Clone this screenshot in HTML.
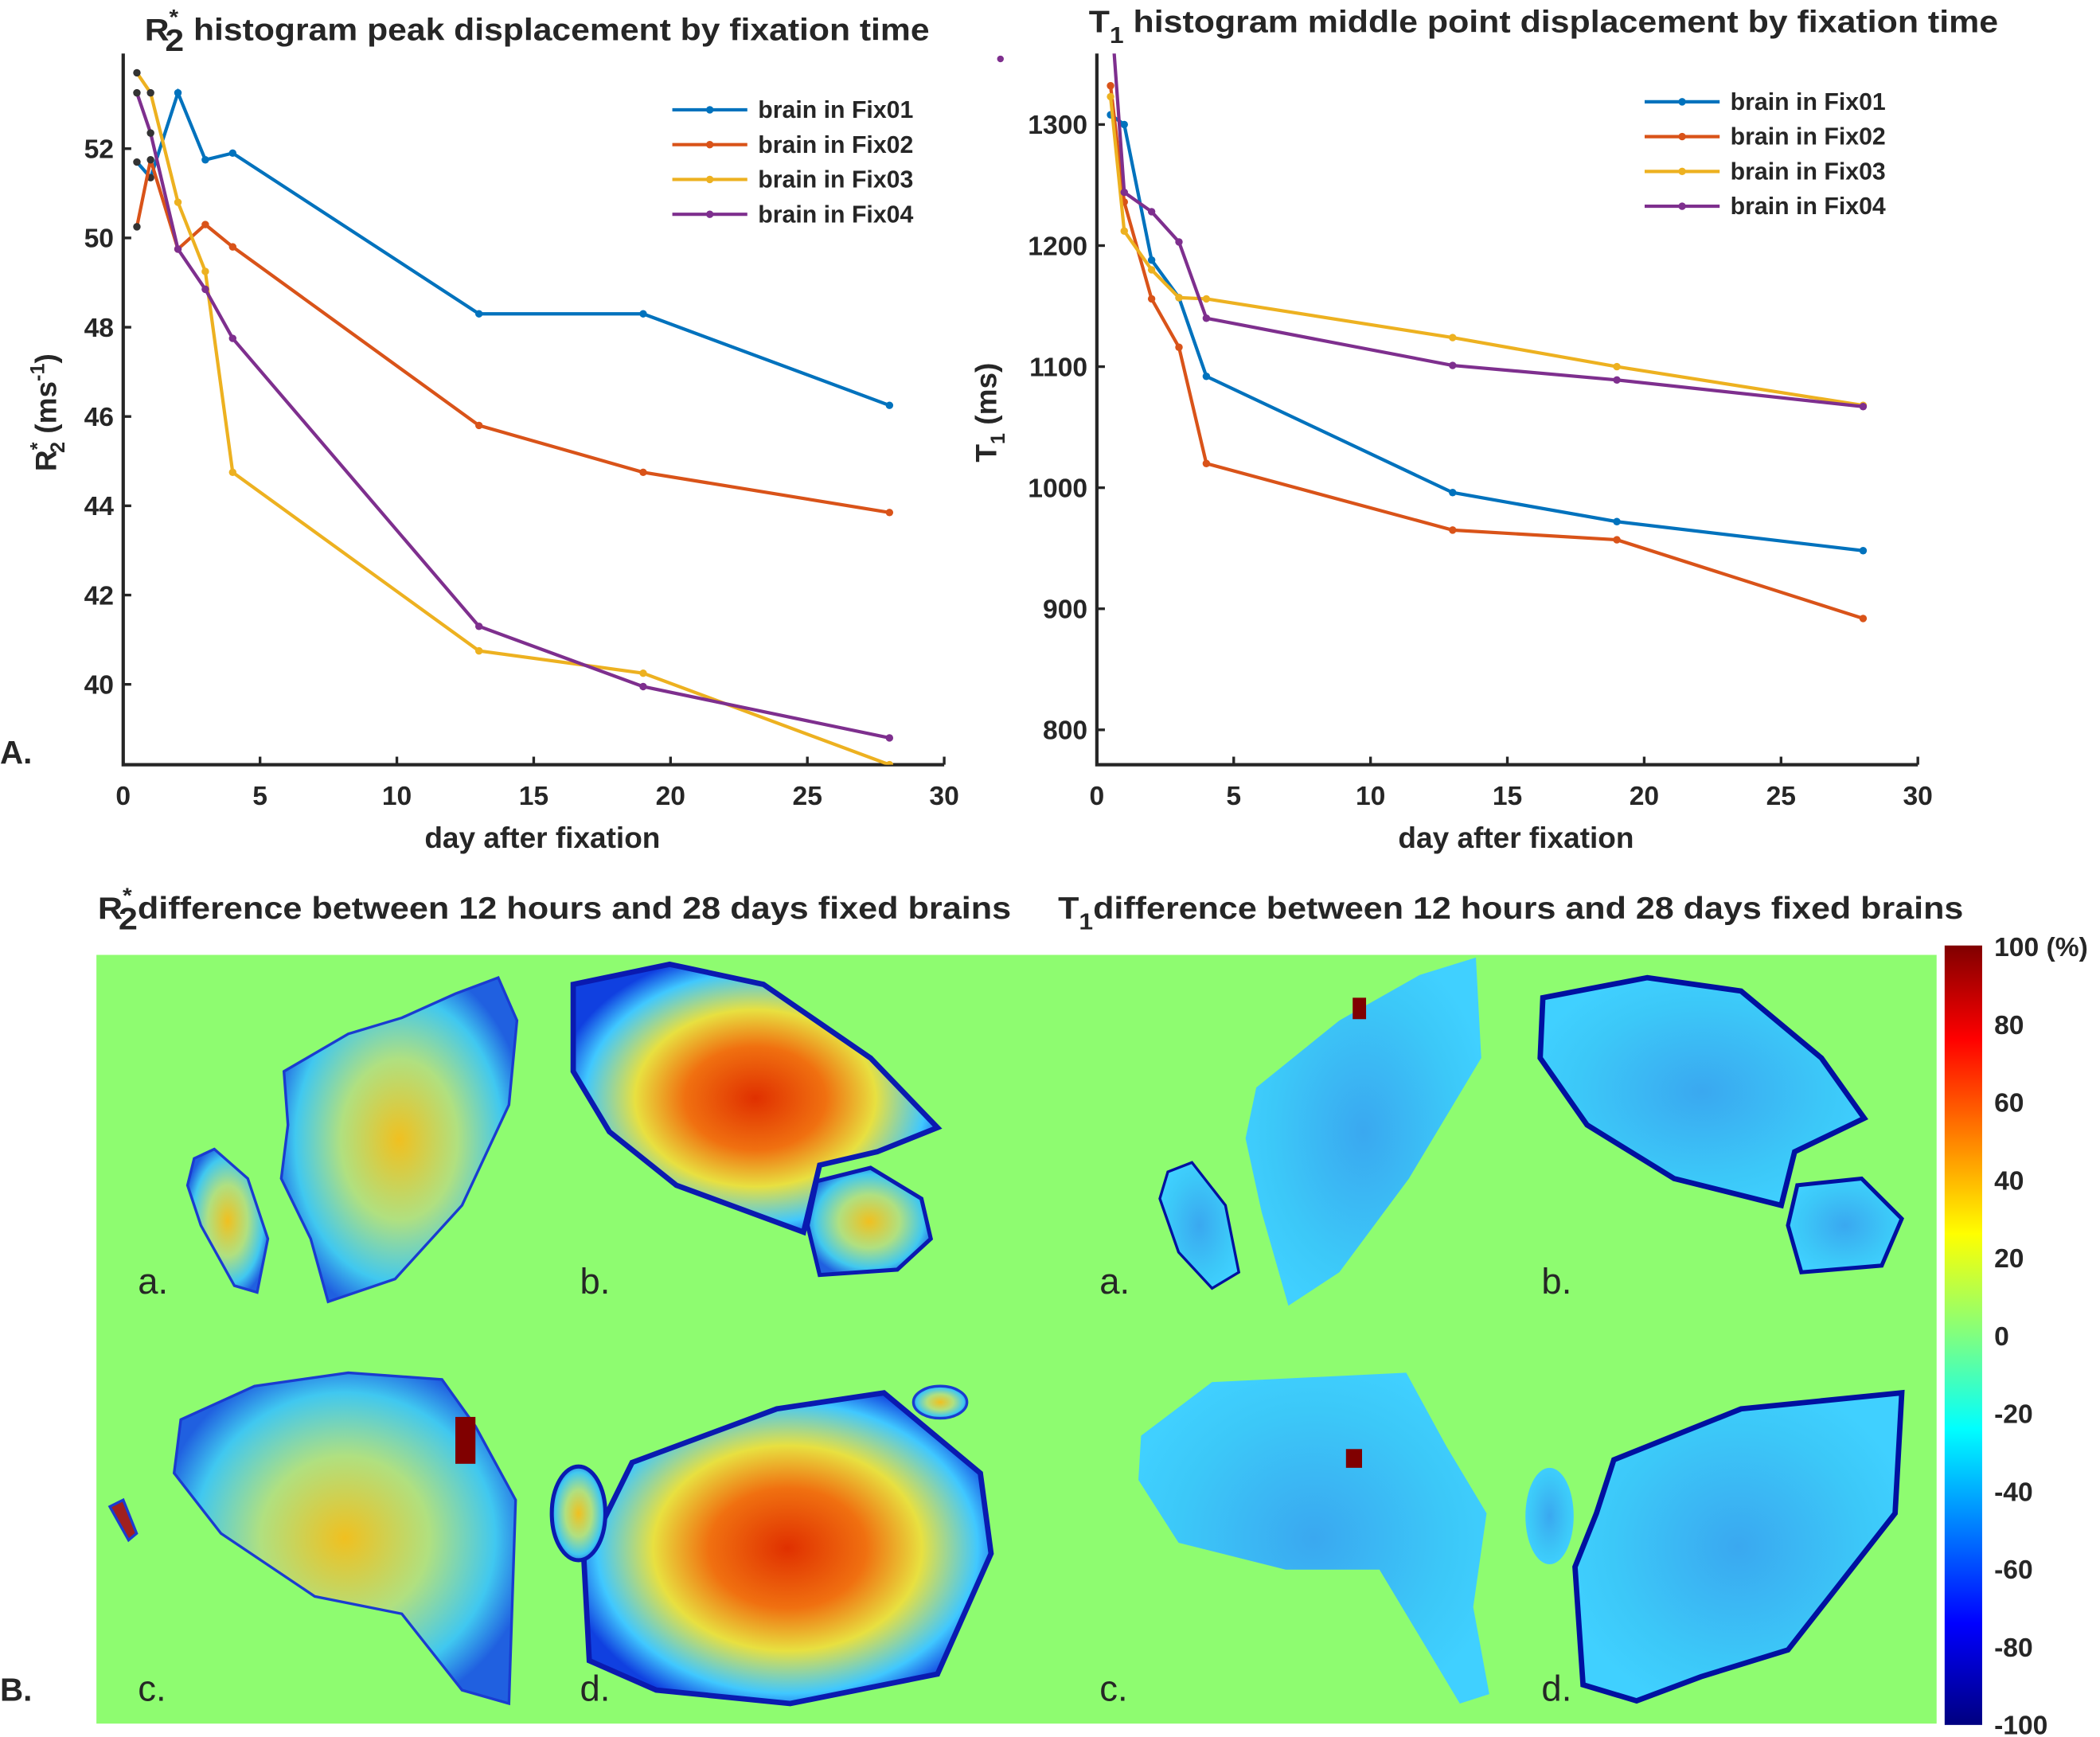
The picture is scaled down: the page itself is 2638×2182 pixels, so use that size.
<!DOCTYPE html>
<html><head><meta charset="utf-8"><style>
html,body{margin:0;padding:0;background:#fff;}
svg{display:block;}
text{font-family:"Liberation Sans",sans-serif;fill:#262626;}
.b{font-weight:bold;}
</style></head><body>
<svg id="fig" xmlns="http://www.w3.org/2000/svg" width="2638" height="2182" viewBox="0 0 1568 1297" preserveAspectRatio="none">
<defs>
<linearGradient id="jet" x1="0" y1="0" x2="0" y2="1">
<stop offset="0" stop-color="#800000"/><stop offset="0.12" stop-color="#ff0000"/><stop offset="0.37" stop-color="#ffff00"/><stop offset="0.5" stop-color="#80ff80"/><stop offset="0.62" stop-color="#00ffff"/><stop offset="0.87" stop-color="#0000ff"/><stop offset="1" stop-color="#000080"/>
</linearGradient>
<radialGradient id="hot" cx="0.5" cy="0.5" r="0.55">
<stop offset="0" stop-color="#e03000"/><stop offset="0.35" stop-color="#f07010"/><stop offset="0.6" stop-color="#e8e040"/><stop offset="0.85" stop-color="#40c8ff"/><stop offset="1" stop-color="#1040e0"/>
</radialGradient>
<radialGradient id="warm" cx="0.5" cy="0.5" r="0.55">
<stop offset="0" stop-color="#f0c020"/><stop offset="0.45" stop-color="#b0e080"/><stop offset="0.8" stop-color="#40c8f0"/><stop offset="1" stop-color="#2060e0"/>
</radialGradient>
<radialGradient id="cool" cx="0.5" cy="0.5" r="0.55">
<stop offset="0" stop-color="#3aa8f0"/><stop offset="0.7" stop-color="#3cc8f8"/><stop offset="1" stop-color="#40d0ff"/>
</radialGradient>
<clipPath id="clipL"><rect x="92" y="40" width="613" height="531"/></clipPath>
<clipPath id="clipR"><rect x="819" y="40" width="613" height="531"/></clipPath>
</defs>

<g id="chartL">
<text class="b" x="108" y="30" font-size="23" textLength="586" lengthAdjust="spacingAndGlyphs">R<tspan font-size="16" dy="-12">*</tspan><tspan dx="-9" dy="20">2</tspan><tspan dy="-8"> histogram peak displacement by fixation time</tspan></text>
<g id="lAxes"></g>
<text class="b" x="405" y="633" font-size="22" text-anchor="middle">day after fixation</text>
<text class="b" transform="translate(42,308) rotate(-90)" font-size="22" text-anchor="middle">R<tspan font-size="15" dy="-9">*</tspan><tspan font-size="15" dx="-8" dy="15">2</tspan><tspan dy="-6"> (ms</tspan><tspan font-size="15" dy="-9">-1</tspan><tspan dy="9">)</tspan></text>
<text class="b" x="0" y="570" font-size="24">A.</text>
</g>

<g id="chartR">
<text class="b" x="813" y="24" font-size="23" textLength="679" lengthAdjust="spacingAndGlyphs">T<tspan font-size="17" dy="8">1</tspan><tspan dy="-8"> histogram middle point displacement by fixation time</tspan></text>
<g id="rAxes"></g>
<text class="b" x="1132" y="633" font-size="22" text-anchor="middle">day after fixation</text>
<text class="b" transform="translate(744,308) rotate(-90)" font-size="22" text-anchor="middle">T<tspan font-size="15" dy="6">1</tspan><tspan dy="-6"> (ms)</tspan></text>
<circle cx="747" cy="44" r="2.5" fill="#7e2f8e"/>
</g>

<text class="b" x="73" y="686" font-size="23" textLength="682" lengthAdjust="spacingAndGlyphs">R<tspan font-size="16" dy="-12">*</tspan><tspan dx="-9" dy="20">2</tspan><tspan dy="-8">difference between 12 hours and 28 days fixed brains</tspan></text>
<text class="b" x="790" y="686" font-size="23" textLength="676" lengthAdjust="spacingAndGlyphs">T<tspan font-size="17" dy="8">1</tspan><tspan dy="-8">difference between 12 hours and 28 days fixed brains</tspan></text>
<text class="b" x="0" y="1270" font-size="24">B.</text>

<rect x="72" y="713" width="1374" height="574" fill="#8efc70"/>

<g stroke="#1a3cd0" stroke-width="2">
<polygon points="145,865 160,858 185,880 200,925 192,965 175,960 150,915 140,885" fill="url(#warm)"/>
<polygon points="212,800 260,772 300,760 340,742 372,730 386,762 380,825 345,900 295,955 245,972 232,925 210,880 215,840" fill="url(#warm)"/>
<polygon points="428,735 500,720 570,735 650,790 700,842 655,860 612,870 600,920 505,885 455,845 428,800" fill="url(#hot)" stroke="#0a1ab0" stroke-width="4"/>
<polygon points="610,882 650,872 688,895 695,925 670,948 612,952 603,915" fill="url(#warm)" stroke="#0a1ab0" stroke-width="3"/>
<polygon points="135,1060 190,1035 260,1025 330,1030 355,1065 385,1120 380,1272 345,1262 300,1205 235,1192 165,1145 130,1100" fill="url(#warm)"/>
<rect x="340" y="1058" width="15" height="35" fill="#800000" stroke="none"/>
<polygon points="82,1125 92,1120 102,1145 96,1150" fill="#a02020"/>
<polygon points="472,1092 580,1052 660,1040 732,1100 740,1160 700,1250 590,1272 490,1262 440,1240 436,1165" fill="url(#hot)" stroke="#0a1ab0" stroke-width="4"/>
<ellipse cx="432" cy="1130" rx="20" ry="35" fill="url(#warm)" stroke="#0a1ab0" stroke-width="3"/>
<ellipse cx="702" cy="1047" rx="20" ry="12" fill="url(#warm)"/>
</g>

<g stroke="#0010a0" stroke-width="2">
<polygon points="872,875 890,868 915,900 925,950 905,962 880,935 866,895" fill="url(#cool)"/>
<polygon points="938,812 1000,762 1060,728 1102,715 1106,790 1052,880 1000,950 962,975 942,905 930,850" fill="url(#cool)" stroke="none"/>
<polygon points="1152,745 1230,730 1300,740 1360,790 1392,835 1340,860 1330,900 1250,880 1185,840 1150,790" fill="url(#cool)" stroke-width="4"/>
<polygon points="1342,885 1390,880 1420,910 1405,945 1345,950 1335,915" fill="url(#cool)" stroke-width="3"/>
<polygon points="852,1072 905,1032 1050,1025 1080,1080 1110,1130 1100,1200 1112,1265 1090,1272 1030,1172 960,1172 880,1152 850,1105" fill="url(#cool)" stroke="none"/>
<ellipse cx="1157" cy="1132" rx="18" ry="36" fill="url(#cool)" stroke="none"/>
<polygon points="1205,1090 1300,1052 1420,1040 1415,1130 1335,1232 1270,1252 1222,1270 1182,1258 1176,1170 1192,1130" fill="url(#cool)" stroke-width="4"/>
<rect x="1005" y="1082" width="12" height="14" fill="#800000" stroke="none"/>
<rect x="1010" y="745" width="10" height="16" fill="#800000" stroke="none"/>
</g>

<g font-size="27">
<text x="103" y="966" fill="#333">a.</text>
<text x="433" y="966" fill="#333">b.</text>
<text x="103" y="1270" fill="#333">c.</text>
<text x="433" y="1270" fill="#333">d.</text>
<text x="821" y="966" fill="#333">a.</text>
<text x="1151" y="966" fill="#333">b.</text>
<text x="821" y="1270" fill="#333">c.</text>
<text x="1151" y="1270" fill="#333">d.</text>
</g>

<rect x="1452" y="706" width="28" height="582" fill="url(#jet)"/>
<g id="cbTicks"></g>
</svg>

<script>
const days = [0.5, 1, 2, 3, 4, 13, 19, 28];
const seriesNames = ["brain in Fix01", "brain in Fix02", "brain in Fix03", "brain in Fix04"];
const r2Fix01 = [51.7, 51.35, 53.25, 51.75, 51.9, 48.3, 48.3, 46.25];
const r2Fix02 = [50.25, 51.75, 49.75, 50.3, 49.8, 45.8, 44.75, 43.85];
const r2Fix03 = [53.7, 53.25, 50.8, 49.25, 44.75, 40.75, 40.25, 38.2];
const r2Fix04 = [53.25, 52.35, 49.75, 48.85, 47.75, 41.3, 39.95, 38.8];
const t1Fix01 = [1308, 1300, 1188, 1157, 1092, 996, 972, 948];
const t1Fix02 = [1332, 1236, 1156, 1116, 1020, 965, 957, 892];
const t1Fix03 = [1323, 1212, 1180, 1157, 1156, 1124, 1100, 1068];
const t1Fix04 = [1400, 1244, 1228, 1203, 1140, 1101, 1089, 1067];
const xTicks = [0, 5, 10, 15, 20, 25, 30];
const r2YTicks = [40, 42, 44, 46, 48, 50, 52];
const t1YTicks = [800, 900, 1000, 1100, 1200, 1300];
const cbTicks = ["100 (%)", "80", "60", "40", "20", "0", "-20", "-40", "-60", "-80", "-100"];
const colors = ["#0072bd", "#d95319", "#edb120", "#7e2f8e"];

const NS = "http://www.w3.org/2000/svg";
function mk(tag, attrs, parent) {
  const e = document.createElementNS(NS, tag);
  for (const k in attrs) e.setAttribute(k, attrs[k]);
  parent.appendChild(e);
  return e;
}

function drawChart(gid, x0, series, yTicks, yMin, yMax, clipId, legendX, legendY, prefix) {
  const g = document.getElementById(gid);
  const W = 613, top = 40, bottom = 571;
  const xs = d => x0 + d / 30 * W;
  const ys = v => bottom - (v - yMin) / (yMax - yMin) * (bottom - top);
  const ax = mk("path", {d: `M${x0},${top} L${x0},${bottom} L${x0 + W},${bottom}`, stroke: "#262626", "stroke-width": 2.5, fill: "none"}, g);
  
  
  xTicks.forEach(t => {
    mk("line", {x1: xs(t), x2: xs(t), y1: bottom, y2: bottom - 6, stroke: "#262626", "stroke-width": 2}, g);
    const tx = mk("text", {x: xs(t), y: bottom + 30, "font-size": 20, "text-anchor": "middle", class: "b"}, g);
    tx.textContent = t;
    
    
  });
  yTicks.forEach(t => {
    mk("line", {x1: x0, x2: x0 + 6, y1: ys(t), y2: ys(t), stroke: "#262626", "stroke-width": 2}, g);
    const tx = mk("text", {x: x0 - 7, y: ys(t) + 7, "font-size": 20, "text-anchor": "end", class: "b"}, g);
    tx.textContent = t;
    
    
  });
  const plot = mk("g", {"clip-path": `url(#${clipId})`}, g);
  series.forEach((vals, i) => {
    const pl = mk("polyline", {points: vals.map((v, j) => xs(days[j]) + "," + ys(v)).join(" "), fill: "none", stroke: colors[i], "stroke-width": 2.5}, plot);
    
    
    vals.forEach((v, j) => {
      const c = mk("circle", {cx: xs(days[j]), cy: ys(v), r: 2.8, fill: (prefix === "r2" && j < 2) ? "#333" : colors[i]}, plot);
      
      
    });
  });
  seriesNames.forEach((n, i) => {
    const y = legendY + i * 26;
    const ln = mk("line", {x1: legendX, x2: legendX + 56, y1: y, y2: y, stroke: colors[i], "stroke-width": 2.5}, g);
    
    
    mk("circle", {cx: legendX + 28, cy: y, r: 2.8, fill: colors[i]}, g);
    const tx = mk("text", {x: legendX + 64, y: y + 6, "font-size": 18, class: "b"}, g);
    tx.textContent = n;
    
    
  });
}

drawChart("lAxes", 92, [r2Fix01, r2Fix02, r2Fix03, r2Fix04], r2YTicks, 38.2, 54.13, "clipL", 502, 82, "r2");
drawChart("rAxes", 819, [t1Fix01, t1Fix02, t1Fix03, t1Fix04], t1YTicks, 771.2, 1358.6, "clipR", 1228, 76, "t1");

const cb = document.getElementById("cbTicks");
cbTicks.forEach((t, i) => {
  const tx = mk("text", {x: 1489, y: 714 + i * 58.1, "font-size": 20, class: "b"}, cb);
  tx.textContent = t;
  
  
});
</script>
</body></html>
